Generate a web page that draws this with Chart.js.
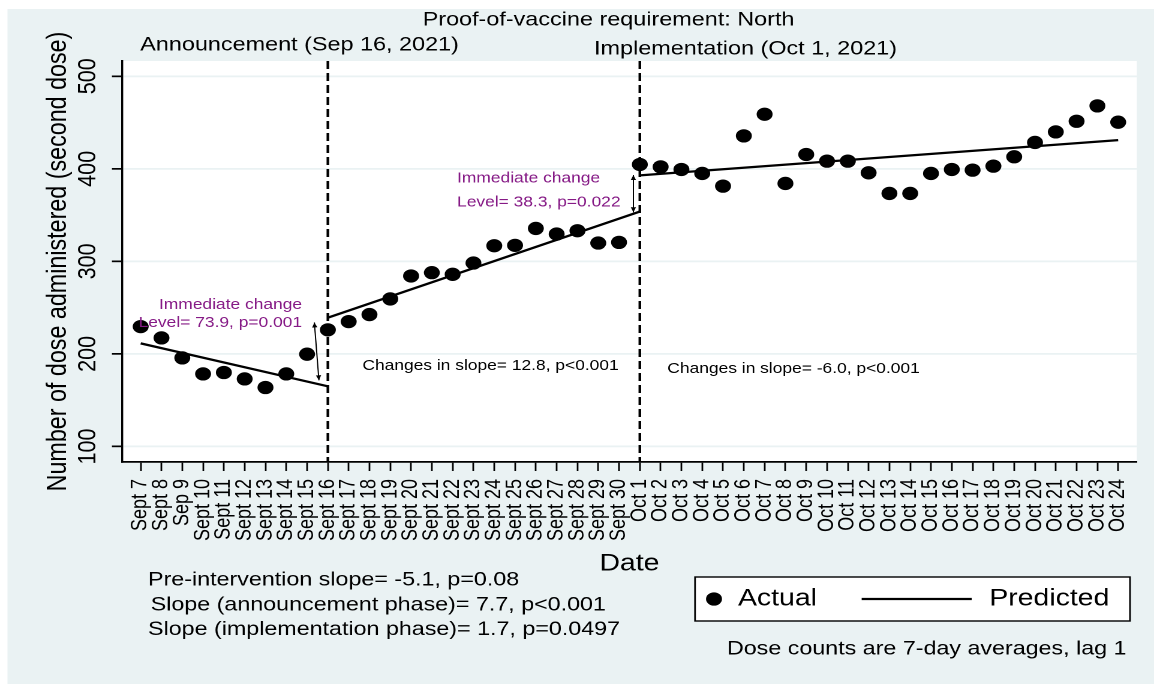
<!DOCTYPE html>
<html>
<head>
<meta charset="utf-8">
<title>Proof-of-vaccine requirement: North</title>
<script src="https://cdn.jsdelivr.net/npm/chart.js@4.4.1/dist/chart.umd.min.js"></script>
<style>
  html, body { margin: 0; padding: 0; background: #fff; }
  /* drawn on a narrower canvas and stretched sideways, like the exported graph */
  #doseChart { display: block; width: 1154px !important; height: 688px !important; }
</style>
</head>
<body>
<canvas id="doseChart" width="962" height="688" style="width:1154px;height:688px"></canvas>
<script>
const dayLabels = [
  "Sept 7", "Sept 8", "Sep 9", "Sept 10", "Sept 11", "Sept 12", "Sept 13", "Sept 14",
  "Sept 15", "Sept 16", "Sept 17", "Sept 18", "Sept 19", "Sept 20", "Sept 21", "Sept 22",
  "Sept 23", "Sept 24", "Sept 25", "Sept 26", "Sept 27", "Sept 28", "Sept 29", "Sept 30",
  "Oct 1", "Oct 2", "Oct 3", "Oct 4", "Oct 5", "Oct 6", "Oct 7", "Oct 8",
  "Oct 9", "Oct 10", "Oct 11", "Oct 12", "Oct 13", "Oct 14", "Oct 15", "Oct 16",
  "Oct 17", "Oct 18", "Oct 19", "Oct 20", "Oct 21", "Oct 22", "Oct 23", "Oct 24"
];

// 7-day average second doses, lag 1
const actualDoses = [
  229.5, 217.3, 195.7, 178.4, 179.9, 173.0, 163.7, 178.4,
  199.7, 226.0, 234.9, 242.5, 259.4, 284.2, 287.8, 286.0,
  298.2, 316.9, 317.3, 335.6, 329.5, 333.1, 319.8, 320.5,
  404.7, 402.1, 399.3, 395.0, 381.3, 435.6, 459.0, 384.2,
  415.5, 408.3, 408.3, 395.7, 373.4, 373.4, 395.0, 399.3,
  398.6, 402.9, 413.0, 428.5, 439.9, 451.4, 468.0, 450.4
];

// fitted segments (start, end) for each phase
const trendDays = [[0, 9], [9, 24], [24, 47]];
const preTrend = [211.4, 165.0];
const announceTrend = [239.2, 353.8];
const implementTrend = [392.9, 431.0];

const phaseBreaks = [9, 24];
const yTicks = [100, 200, 300, 400, 500];

// level-change arrows: [day, value] -> [day, value]
const levelArrows = [
  [8.35, 234.0, 8.57, 171.5],
  [23.69, 393.3, 23.69, 353.0]
];

const FONT = '"Liberation Sans", Arial, Helvetica, sans-serif';
const PANEL = '#eaf2f3';
const PURPLE = '#861a86';

Chart.defaults.font.family = FONT;
Chart.defaults.color = '#000';

function drawText(ctx, str, x, y, size, align, color) {
  ctx.font = size + 'px ' + FONT;
  ctx.textAlign = align;
  ctx.textBaseline = 'middle';
  ctx.fillStyle = color || '#000';
  ctx.fillText(str, x, y);
}

function arrowHead(ctx, fx, fy, tx, ty) {
  const ang = Math.atan2(ty - fy, tx - fx);
  const len = 5, w = 2.2;
  ctx.beginPath();
  ctx.moveTo(tx, ty);
  ctx.lineTo(tx - len * Math.cos(ang) + w * Math.sin(ang), ty - len * Math.sin(ang) - w * Math.cos(ang));
  ctx.lineTo(tx - len * Math.cos(ang) - w * Math.sin(ang), ty - len * Math.sin(ang) + w * Math.cos(ang));
  ctx.closePath();
  ctx.fill();
}

const decorations = {
  id: 'decorations',
  beforeDraw(chart) {
    const { ctx, width, height, chartArea: a } = chart;
    ctx.save();
    ctx.fillStyle = '#fff';
    ctx.fillRect(0, 0, width, height);
    ctx.fillStyle = PANEL;
    ctx.fillRect(6.25, 9, width - 6.25, height - 13);
    ctx.fillStyle = '#fff';
    ctx.fillRect(a.left, a.top, a.right - a.left, a.bottom - a.top);
    ctx.restore();
  },
  beforeDatasetsDraw(chart) {
    const { ctx, chartArea: a, scales: { x } } = chart;
    ctx.save();
    ctx.strokeStyle = '#000';
    ctx.lineWidth = 2.2;
    ctx.setLineDash([8, 4]);
    phaseBreaks.forEach(d => {
      const px = x.getPixelForValue(d);
      ctx.beginPath();
      ctx.moveTo(px, a.top);
      ctx.lineTo(px, a.bottom);
      ctx.stroke();
    });
    ctx.restore();
  },
  afterDatasetsDraw(chart) {
    const { ctx, scales: { x, y } } = chart;
    ctx.save();
    ctx.strokeStyle = '#000';
    ctx.fillStyle = '#000';
    ctx.lineWidth = 1;
    levelArrows.forEach(([d1, v1, d2, v2]) => {
      const x1 = x.getPixelForValue(d1), y1 = y.getPixelForValue(v1);
      const x2 = x.getPixelForValue(d2), y2 = y.getPixelForValue(v2);
      ctx.beginPath();
      ctx.moveTo(x1, y1);
      ctx.lineTo(x2, y2);
      ctx.stroke();
      arrowHead(ctx, x2, y2, x1, y1);
      arrowHead(ctx, x1, y1, x2, y2);
    });
    ctx.restore();
  },
  afterDraw(chart) {
    const { ctx } = chart;
    ctx.save();

    // headings
    drawText(ctx, 'Proof-of-vaccine requirement: North', 507.3, 20, 19.5, 'center');
    drawText(ctx, 'Announcement (Sep 16, 2021)', 249.7, 45, 19.5, 'center');
    drawText(ctx, 'Implementation (Oct 1, 2021)', 621.5, 49, 19.5, 'center');

    // in-plot notes
    drawText(ctx, 'Immediate change', 251.8, 305, 14.5, 'right', PURPLE);
    drawText(ctx, 'Level= 73.9, p=0.001', 251.8, 323, 14.5, 'right', PURPLE);
    drawText(ctx, 'Immediate change', 381, 178.5, 14.5, 'left', PURPLE);
    drawText(ctx, 'Level= 38.3, p=0.022', 381, 202.5, 14.5, 'left', PURPLE);
    drawText(ctx, 'Changes in slope= 12.8, p<0.001', 302.1, 366, 14.5, 'left');
    drawText(ctx, 'Changes in slope= -6.0, p<0.001', 556.3, 369, 14.5, 'left');

    // slope summary
    drawText(ctx, 'Pre-intervention slope= -5.1, p=0.08', 123.4, 580, 19.4, 'left');
    drawText(ctx, 'Slope (announcement phase)= 7.7, p<0.001', 125.6, 605, 19.4, 'left');
    drawText(ctx, 'Slope (implementation phase)= 1.7, p=0.0497', 123.4, 629.5, 19.4, 'left');

    // legend
    ctx.fillStyle = '#fff';
    ctx.fillRect(579.4, 577, 362.6, 44);
    ctx.strokeStyle = '#000';
    ctx.lineWidth = 1.4;
    ctx.strokeRect(579.4, 577, 362.6, 44);
    ctx.fillStyle = '#000';
    ctx.beginPath();
    ctx.arc(595.2, 599, 6.65, 0, Math.PI * 2);
    ctx.fill();
    drawText(ctx, 'Actual', 615.2, 599, 23.7, 'left');
    ctx.lineWidth = 2.3;
    ctx.beginPath();
    ctx.moveTo(718.3, 599);
    ctx.lineTo(810, 599);
    ctx.stroke();
    drawText(ctx, 'Predicted', 824.7, 599, 23.7, 'left');

    drawText(ctx, 'Dose counts are 7-day averages, lag 1', 606, 649, 19.4, 'left');
    ctx.restore();
  }
};

function trendSet(days, values) {
  return {
    type: 'line',
    label: 'Predicted',
    data: [{ x: days[0], y: values[0] }, { x: days[1], y: values[1] }],
    borderColor: '#000',
    borderWidth: 2.3,
    pointRadius: 0,
    fill: false
  };
}

new Chart(document.getElementById('doseChart'), {
  type: 'scatter',
  data: {
    datasets: [
      {
        label: 'Actual',
        data: actualDoses.map((v, i) => ({ x: i, y: v })),
        pointRadius: 6.65,
        pointHoverRadius: 6.65,
        backgroundColor: '#000',
        borderWidth: 0
      },
      trendSet(trendDays[0], preTrend),
      trendSet(trendDays[1], announceTrend),
      trendSet(trendDays[2], implementTrend)
    ]
  },
  options: {
    responsive: false,
    animation: false,
    devicePixelRatio: 2,
    events: [],
    layout: { padding: { left: 37.1, top: 61, right: 14.2, bottom: 112.15 } },
    plugins: {
      legend: { display: false },
      tooltip: { enabled: false },
      title: { display: false }
    },
    scales: {
      x: {
        type: 'linear',
        min: -0.9,
        max: 47.9,
        afterBuildTicks: s => { s.ticks = dayLabels.map((_, i) => ({ value: i })); },
        afterFit: s => { s.height = 113.85; },
        ticks: {
          autoSkip: false,
          minRotation: 90,
          maxRotation: 90,
          padding: 8,
          color: '#000',
          font: { size: 18 },
          callback: v => dayLabels[v]
        },
        grid: { drawOnChartArea: false, tickLength: 9, tickColor: '#000', tickWidth: 1.4 },
        border: { color: '#000', width: 1.7 },
        title: {
          display: true,
          text: 'Date',
          color: '#000',
          font: { size: 23.7, lineHeight: 1 },
          padding: 0
        }
      },
      y: {
        min: 83.2,
        max: 516.5,
        afterBuildTicks: s => { s.ticks = yTicks.map(v => ({ value: v })); },
        afterFit: s => { s.width = 64.57; },
        ticks: {
          minRotation: 90,
          maxRotation: 90,
          crossAlign: 'center',
          padding: 1.55,
          color: '#000',
          font: { size: 21.6 }
        },
        grid: { color: PANEL, lineWidth: 1.7, tickLength: 8.37, tickColor: '#000', tickWidth: 1.7 },
        border: { color: '#000', width: 1.7 },
        title: {
          display: true,
          text: 'Number of dose administered (second dose)',
          color: '#000',
          font: { size: 23.3, lineHeight: 1 },
          padding: 0
        }
      }
    }
  },
  plugins: [decorations]
});
</script>
</body>
</html>
